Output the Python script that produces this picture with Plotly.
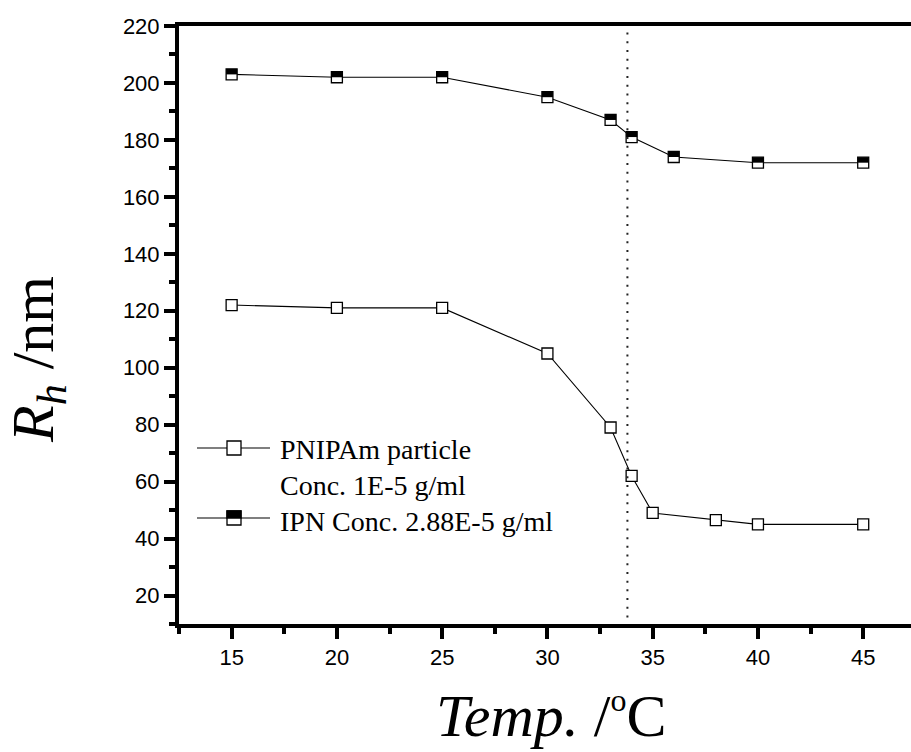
import plotly.graph_objects as go

# ---------------- data ----------------
temp_pnipam = [15, 20, 25, 30, 33, 34, 35, 38, 40, 45]
rh_pnipam = [122, 121, 121, 105, 79, 62, 49, 46.5, 45, 45]

temp_ipn = [15, 20, 25, 30, 33, 34, 36, 40, 45]
rh_ipn = [203, 202, 202, 195, 187, 181, 174, 172, 172]

lcst_temp = 33.8
lcst_span = [12.3, 218.6]

x_ticks = [15, 20, 25, 30, 35, 40, 45]
y_ticks = [20, 40, 60, 80, 100, 120, 140, 160, 180, 200, 220]

legend_labels = ["PNIPAm particle", "Conc. 1E-5 g/ml", "IPN Conc. 2.88E-5 g/ml"]

# ---------------- layout geometry ----------------
W, H = 911, 752
L, R, T, B = 179, 0, 26, 128
PW, PH = W - L - R, H - T - B
X_RANGE = [12.5, 47.27]
Y_RANGE = [10, 220]

MS = 11  # marker size (px)
half_px = MS / 4.0  # centre offset of the filled top half (px)
y_per_px = (Y_RANGE[1] - Y_RANGE[0]) / PH


def px(xp):
    return (xp - L) / PW


def py(yp):
    return (H - B - yp) / PH


fig = go.Figure()

# PNIPAm – open squares
fig.add_trace(go.Scatter(
    x=temp_pnipam, y=rh_pnipam, mode="lines+markers",
    line=dict(color="black", width=1.1),
    marker=dict(symbol="square", size=MS, color="white",
                line=dict(color="black", width=1.3)),
    showlegend=False, cliponaxis=False))

# IPN – open squares with filled top half
fig.add_trace(go.Scatter(
    x=temp_ipn, y=rh_ipn, mode="lines+markers",
    line=dict(color="black", width=1.1),
    marker=dict(symbol="square", size=MS, color="white",
                line=dict(color="black", width=1.3)),
    showlegend=False, cliponaxis=False))
fig.add_trace(go.Scatter(
    x=temp_ipn, y=[v + half_px * y_per_px for v in rh_ipn], mode="markers",
    marker=dict(symbol="line-ew", size=MS / 1.4, color="black",
                line=dict(color="black", width=MS / 2.0)),
    showlegend=False, hoverinfo="skip", cliponaxis=False))

shapes = []
# dotted LCST line
shapes.append(dict(type="line", xref="x", yref="y", x0=lcst_temp, x1=lcst_temp,
                   y0=lcst_span[0], y1=lcst_span[1],
                   line=dict(color="#222", width=2, dash="2px,6.7px")))

# manual legend
LS = 14
leg_rows = [448, 518]
for i, yrow in enumerate(leg_rows):
    shapes.append(dict(type="line", xref="paper", yref="paper",
                       x0=px(197), x1=px(270), y0=py(yrow), y1=py(yrow),
                       line=dict(color="black", width=1.1)))
    shapes.append(dict(type="rect", xref="paper", yref="paper",
                       x0=px(234 - LS / 2), x1=px(234 + LS / 2),
                       y0=py(yrow + LS / 2), y1=py(yrow - LS / 2),
                       fillcolor="white", line=dict(color="black", width=1.3)))
    if i == 1:
        shapes.append(dict(type="rect", xref="paper", yref="paper",
                           x0=px(234 - LS / 2), x1=px(234 + LS / 2),
                           y0=py(yrow), y1=py(yrow - LS / 2),
                           fillcolor="black", line=dict(color="black", width=1.3)))

annotations = []
for lab, yc in zip(legend_labels, [449, 485, 521]):
    annotations.append(dict(xref="paper", yref="paper", x=px(278), y=py(yc),
                            xanchor="left", yanchor="middle", showarrow=False,
                            text=lab,
                            font=dict(family="Liberation Serif, Times New Roman, serif",
                                      size=28, color="black")))

# axis titles
annotations.append(dict(xref="paper", yref="paper", x=px(551), y=py(715),
                        xanchor="center", yanchor="middle", showarrow=False,
                        text="<i>Temp.</i> /<sup><span style='font-size:32px'>o</span></sup>C",
                        font=dict(family="Liberation Serif, Times New Roman, serif",
                                  size=60, color="black")))
annotations.append(dict(xref="paper", yref="paper", x=px(37), y=py(360),
                        xanchor="center", yanchor="middle", showarrow=False,
                        textangle=-90,
                        text="<i>R<sub>h</sub></i> /nm",
                        font=dict(family="Liberation Serif, Times New Roman, serif",
                                  size=60, color="black")))

axis_common = dict(showgrid=False, zeroline=False, showline=True, linecolor="black",
                   linewidth=4, ticks="outside", ticklen=11, tickwidth=4,
                   tickcolor="black",
                   tickfont=dict(family="Liberation Sans, Arial, sans-serif",
                                 size=22, color="black"))

fig.update_layout(
    width=W, height=H, autosize=False,
    margin=dict(l=L, r=R, t=T, b=B, pad=0),
    plot_bgcolor="white", paper_bgcolor="white",
    xaxis=dict(range=X_RANGE, tickvals=x_ticks, mirror=True,
               minor=dict(dtick=2.5, tick0=12.5, ticks="outside", ticklen=6,
                          tickwidth=4, tickcolor="black"),
               **axis_common),
    yaxis=dict(range=Y_RANGE, tickvals=y_ticks,
               minor=dict(dtick=10, tick0=10, ticks="outside", ticklen=6,
                          tickwidth=4, tickcolor="black"),
               **axis_common),
    shapes=shapes, annotations=annotations,
)

fig.write_html("out.html")
